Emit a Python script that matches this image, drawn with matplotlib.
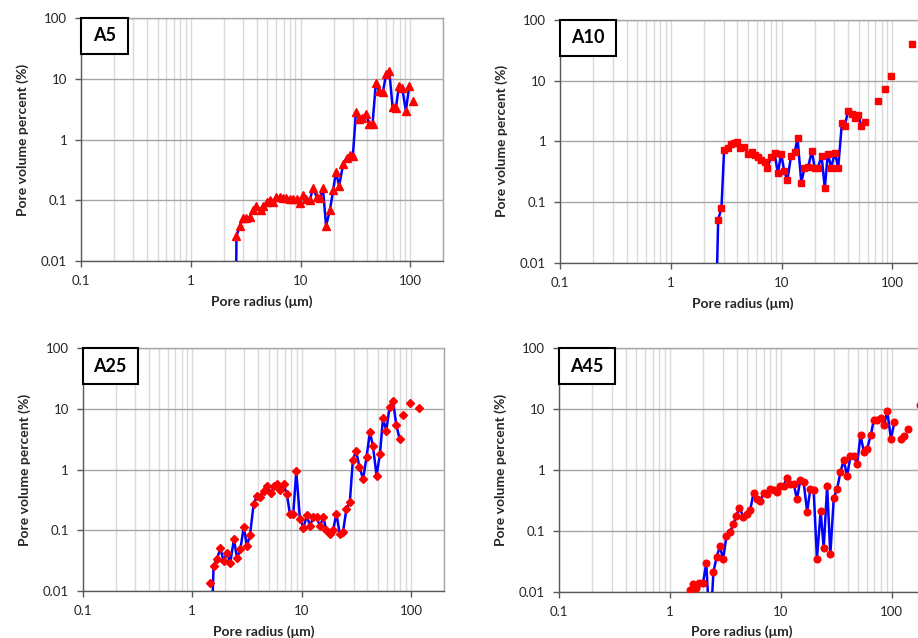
import matplotlib
matplotlib.use("Agg")
import matplotlib.pyplot as plt
from matplotlib.patches import Rectangle
from matplotlib.ticker import FixedLocator, LogLocator, NullFormatter, FuncFormatter

plt.rcParams['font.family'] = ['Lato', 'DejaVu Sans']

# ---------------- data ----------------
a5_radius = [2.57, 2.61, 2.80, 3.00, 3.22, 3.45, 3.70, 3.97, 4.32, 4.60, 4.93, 5.29, 5.63,
             6.04, 6.48, 6.95, 7.45, 8.00, 8.58, 9.20, 9.86, 10.6, 11.3, 12.2, 13.0, 14.0,
             15.0, 16.0, 17.1, 18.5, 19.9, 21.0, 22.5, 24.5, 26.3, 28.0, 30.0, 32.0, 34.3,
             36.7, 39.4, 42.3, 45.3, 48.6, 52.1, 56.3, 60.4, 64.4, 69.0, 74.0, 78.8, 84.5,
             91.2, 97.9, 105]
a5_percent = [0.001, 0.026, 0.0376, 0.052, 0.051, 0.053, 0.069, 0.081, 0.069, 0.081, 0.095,
              0.103, 0.094, 0.114, 0.112, 0.110, 0.109, 0.105, 0.107, 0.104, 0.091, 0.121,
              0.107, 0.103, 0.160, 0.115, 0.108, 0.160, 0.038, 0.069, 0.150, 0.293, 0.173,
              0.40, 0.50, 0.55, 0.54, 2.84, 2.20, 2.22, 2.66, 1.78, 1.78, 8.5, 6.26, 6.0,
              12.1, 13.2, 3.43, 3.30, 7.48, 7.0, 2.94, 7.56, 4.35]
a5_line_points = (0, 54)

a10_radius = [2.55, 2.68, 2.87, 3.03, 3.27, 3.51, 3.73, 3.97, 4.26, 4.60, 5.00, 5.36, 5.74,
              6.15, 6.59, 7.06, 7.47, 8.00, 8.65, 9.27, 9.93, 10.6, 11.3, 12.2, 13.2, 13.95,
              15.1, 16.1, 17.4, 18.8, 19.9, 21.3, 23.0, 24.6, 26.2, 28.1, 30.3, 32.5, 35.1,
              37.1, 40.0, 43.2, 46.3, 49.3, 52.5, 56.6, 74.6, 85.9, 97.9, 149.6]
a10_percent = [0.001, 0.0515, 0.080, 0.71, 0.79, 0.90, 0.93, 0.96, 0.77, 0.82, 0.61, 0.67,
               0.60, 0.55, 0.50, 0.45, 0.36, 0.55, 0.64, 0.30, 0.63, 0.32, 0.23, 0.58, 0.67,
               1.13, 0.21, 0.36, 0.38, 0.69, 0.37, 0.37, 0.58, 0.17, 0.63, 0.37, 0.65, 0.37,
               1.99, 1.76, 3.18, 2.80, 2.38, 2.73, 1.76, 2.07, 4.58, 7.3, 11.8, 40]
a10_line_points = (0, 46)

a25_radius = [1.46, 1.50, 1.57, 1.68, 1.81, 1.94, 2.08, 2.23, 2.41, 2.57, 2.76, 2.96, 3.17,
              3.38, 3.65, 3.92, 4.20, 4.51, 4.84, 5.20, 5.58, 5.94, 6.37, 6.84, 7.33, 7.81,
              8.39, 8.94, 9.66, 10.4, 11.2, 11.9, 12.8, 13.7, 14.7, 15.8, 16.8, 18.1, 19.4,
              20.8, 22.3, 23.9, 25.7, 27.6, 29.4, 31.5, 33.8, 36.5, 39.2, 42.1, 44.8, 48.4,
              52.0, 55.4, 59.4, 63.7, 68.4, 73.3, 78.7, 84.5, 97.3, 119]
a25_percent = [0.0134, 0.002, 0.0258, 0.0332, 0.0502, 0.0311, 0.0427, 0.0292, 0.0724, 0.0344,
               0.049, 0.114, 0.055, 0.085, 0.275, 0.368, 0.355, 0.44, 0.537, 0.41, 0.53,
               0.586, 0.47, 0.57, 0.40, 0.189, 0.189, 0.935, 0.154, 0.111, 0.177, 0.117,
               0.166, 0.166, 0.117, 0.166, 0.100, 0.0886, 0.100, 0.189, 0.0875, 0.094, 0.228,
               0.293, 1.46, 2.02, 1.10, 0.70, 1.61, 4.14, 2.50, 0.80, 1.82, 7.03, 4.41, 10.9,
               13.7, 5.46, 3.18, 8.07, 12.7, 10.4]
a25_line_points = (1, 59)

a45_radius = [1.52, 1.60, 1.72, 1.85, 1.99, 2.13, 2.30, 2.47, 2.64, 2.83, 3.02, 3.24, 3.49,
              3.74, 3.98, 4.24, 4.61, 4.94, 5.30, 5.68, 6.08, 6.52, 7.00, 7.50, 8.03, 8.61,
              9.23, 9.89, 10.6, 11.4, 12.2, 13.1, 14.0, 15.0, 16.1, 17.3, 18.5, 19.8, 21.2,
              22.9, 24.4, 26.2, 28.0, 30.1, 32.2, 34.5, 37.0, 39.7, 42.5, 45.9, 48.9, 52.4,
              56.2, 60.2, 65.0, 69.2, 74.2, 80.1, 85.9, 91.4, 98.6, 106, 121, 129, 140, 182]
a45_percent = [0.0105, 0.0134, 0.0116, 0.0139, 0.0139, 0.0296, 0.002, 0.0211, 0.0372, 0.0556,
               0.034, 0.0822, 0.0956, 0.128, 0.175, 0.24, 0.167, 0.186, 0.217, 0.418, 0.337,
               0.309, 0.42, 0.40, 0.48, 0.475, 0.44, 0.537, 0.55, 0.745, 0.58, 0.59, 0.329,
               0.675, 0.62, 0.206, 0.49, 0.475, 0.0348, 0.209, 0.0523, 0.537, 0.0411, 0.35,
               0.48, 0.912, 1.44, 0.795, 1.67, 1.67, 1.23, 3.7, 1.97, 2.23, 3.79, 6.68, 6.7,
               7.1, 5.53, 9.27, 3.21, 6.12, 3.17, 3.56, 4.7, 11.5]
a45_line_points = (0, 62)

panel_names = ["A5", "A10", "A25", "A45"]
x_ticks = [0.1, 1, 10, 100]
y_ticks = [0.01, 0.1, 1, 10, 100]
x_label = "Pore radius (\u03bcm)"
y_label = "Pore volume percent (%)"

# ---------------- figure ----------------
W, H = 918, 638
fig = plt.figure(figsize=(W / 100, H / 100), dpi=100)


def px_axes(left, top, right, bottom):
    return fig.add_axes([left / W, 1 - bottom / H, (right - left) / W, (bottom - top) / H])


def fmt(v, pos):
    return "%g" % v


def panel(rect, radius, percent, span, marker, ms, name, box_w):
    left, top, right, bottom = rect
    ax = px_axes(*rect)
    ax.set_xscale("log")
    ax.set_yscale("log")
    ax.set_xlim(0.1, 200)
    ax.set_ylim(0.01, 100)

    ax.xaxis.set_major_locator(FixedLocator(x_ticks))
    ax.xaxis.set_major_formatter(FuncFormatter(fmt))
    ax.xaxis.set_minor_locator(LogLocator(base=10, subs=range(2, 10), numticks=20))
    ax.xaxis.set_minor_formatter(NullFormatter())
    ax.yaxis.set_major_locator(FixedLocator(y_ticks))
    ax.yaxis.set_major_formatter(FuncFormatter(fmt))
    ax.yaxis.set_minor_locator(FixedLocator([]))

    ax.grid(True, which="major", axis="y", color="#a6a6a6", lw=1.0)
    ax.grid(True, which="both", axis="x", color="#d9d9d9", lw=1.0)
    ax.set_axisbelow(True)

    for s in ("left", "bottom"):
        ax.spines[s].set_color("#595959")
        ax.spines[s].set_linewidth(1.0)
    for s in ("top", "right"):
        ax.spines[s].set_color("#a6a6a6")
        ax.spines[s].set_linewidth(1.0)

    ax.tick_params(axis="both", which="major", direction="out", length=4, width=1,
                   color="#595959", labelsize=9.5, labelcolor="#262626")
    ax.tick_params(axis="x", which="major", pad=6)
    ax.tick_params(axis="y", which="major", pad=6)
    ax.tick_params(axis="x", which="minor", length=0)

    s0, s1 = span
    ax.plot(radius[s0:s1], percent[s0:s1], color="#0000ff", lw=1.8, zorder=3)
    ax.plot(radius, percent, linestyle="none", marker=marker, ms=ms, color="#ff0000",
            mec="#ff0000", zorder=4)

    ax.set_xlabel(x_label, fontsize=10, fontweight="bold", color="#262626")
    ax.set_ylabel(y_label, fontsize=10, fontweight="bold", color="#262626")
    aw = right - left
    ah = bottom - top
    ax.xaxis.set_label_coords(0.5, -34 / ah)
    ax.yaxis.set_label_coords(-52 / aw, 0.5)

    bw, bh = box_w / aw, 36 / ah
    ax.add_patch(Rectangle((0, 1 - bh), bw, bh, transform=ax.transAxes, facecolor="white",
                           edgecolor="black", lw=1.5, zorder=6, clip_on=False))
    ax.text(bw / 2, 1 - bh / 2, name, transform=ax.transAxes, ha="center", va="center",
            fontsize=13, fontweight="bold", color="black", zorder=7)
    return ax


panel((81, 17.7, 443.3, 261.3), a5_radius, a5_percent, a5_line_points, "^", 5.5,
      panel_names[0], 47)
panel((560, 19.7, 925.6, 263), a10_radius, a10_percent, a10_line_points, "s", 5,
      panel_names[1], 56)
panel((82.7, 348.3, 444, 591), a25_radius, a25_percent, a25_line_points, "D", 4,
      panel_names[2], 55)
panel((559, 348, 925, 591.7), a45_radius, a45_percent, a45_line_points, "o", 4.8,
      panel_names[3], 56)

fig.savefig("out.png", dpi=100)
